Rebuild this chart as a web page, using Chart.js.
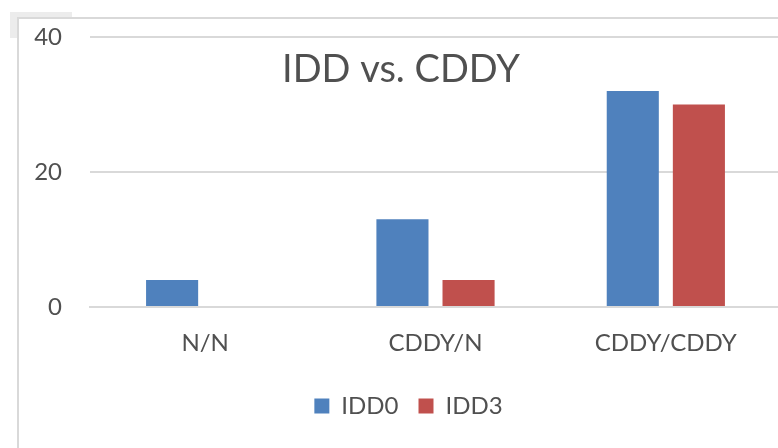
<!DOCTYPE html>
<html>
<head>
<meta charset="utf-8">
<script src="https://cdn.jsdelivr.net/npm/chart.js@4.4.1/dist/chart.umd.min.js"></script>
<style>
  html, body { margin: 0; padding: 0; background: #fff; overflow: hidden; }
  body { width: 778px; height: 448px; position: relative; }
  .patch { position: absolute; left: 10px; top: 12px; width: 62px; height: 26px; background: #ececec; }
  .frame { position: absolute; left: 17px; top: 17px; width: 800px; height: 460px;
           border-top: 2px solid #d9d9d9; border-left: 2px solid #d9d9d9; background: #fff; }
  #wrap { position: absolute; left: 0; top: 0; width: 782px; height: 448px; }
</style>
</head>
<body>
<div class="patch"></div>
<div class="frame"></div>
<div id="wrap"><canvas id="myChart" width="782" height="448"></canvas></div>
<script>
// data
const categories = ["N/N", "CDDY/N", "CDDY/CDDY"];
const idd0 = [4, 13, 32];
const idd3 = [0, 4, 30];
const yTicks = [0, 20, 40];

const FONT = "Lato, 'Open Sans', sans-serif";
const TEXT = "#505050";

// title sits inside the plot like in the office chart
const titlePlugin = {
	id: "insideTitle",
	afterLayout(chart) {
		// legend in the original is centred on the plot, not the canvas
		chart.legend.left += 18;
		chart.legend.right += 18;
	},
	afterDraw(chart) {
		const ctx = chart.ctx;
		ctx.save();
		ctx.fillStyle = TEXT;
		ctx.font = "38px " + FONT;
		ctx.textAlign = "center";
		ctx.textBaseline = "middle";
		ctx.fillText("IDD vs. CDDY", 401, 70);
		ctx.restore();
	},
};

new Chart(document.getElementById("myChart"), {
	type: "bar",
	data: {
		labels: categories,
		datasets: [
			{ label: "IDD0", data: idd0, backgroundColor: "#4f81bd" },
			{ label: "IDD3", data: idd3, backgroundColor: "#c0504d" },
		],
	},
	options: {
		responsive: false,
		animation: false,
		categoryPercentage: 0.574,
		barPercentage: 0.788,
		layout: { padding: { top: 37, right: 1, left: 0, bottom: 20 } },
		plugins: {
			legend: {
				position: "bottom",
				labels: {
					font: { family: FONT, size: 24 },
					color: TEXT,
					boxWidth: 15,
					boxHeight: 15,
					padding: 20,
				},
			},
			tooltip: { enabled: false },
		},
		scales: {
			x: {
				grid: { display: false },
				border: { color: "#d9d9d9", width: 2 },
				ticks: { font: { family: FONT, size: 24 }, color: TEXT, padding: 14 },
				afterFit(s) { s.height = 67; },
			},
			y: {
				min: 0,
				max: 40,
				afterBuildTicks(s) { s.ticks = yTicks.map(v => ({ value: v })); },
				grid: { color: "#d9d9d9", lineWidth: 2, drawTicks: false },
				border: { display: false },
				ticks: { font: { family: FONT, size: 24 }, color: TEXT, padding: 28 },
				afterFit(s) {
					s.width = 90;
					s.paddingTop = 0;
					s.paddingBottom = 0;
				},
			},
		},
	},
	plugins: [titlePlugin],
});
</script>
</body>
</html>
